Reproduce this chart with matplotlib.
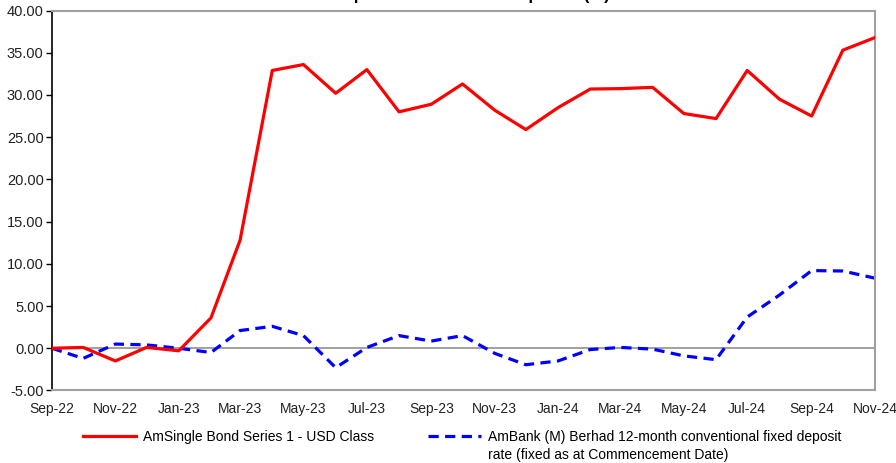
import matplotlib
matplotlib.use("Agg")
import matplotlib.pyplot as plt
import matplotlib.dates as mdates
import pandas as pd

plt.rcParams['font.family'] = ['Liberation Sans', 'DejaVu Sans']

months = pd.date_range("2022-09-01", "2024-11-01", freq="MS")

fund = [0.0, 0.1, -1.5, 0.1, -0.3, 3.6, 12.8, 32.9, 33.6, 30.2, 33.0, 28.0, 28.9,
        31.3, 28.2, 25.9, 28.5, 30.7, 30.75, 30.9, 27.8, 27.2, 32.9, 29.5, 27.5,
        35.3, 36.8]
bench = [0.0, -1.2, 0.5, 0.4, 0.0, -0.5, 2.1, 2.6, 1.5, -2.3, 0.1, 1.5, 0.85,
         1.5, -0.6, -1.95, -1.5, -0.15, 0.1, -0.1, -0.9, -1.35, 3.7, 6.3, 9.2,
         9.15, 8.3]

fund_label = "AmSingle Bond Series 1 - USD Class"
bench_label = "AmBank (M) Berhad 12-month conventional fixed deposit"
bench_label2 = "rate (fixed as at Commencement Date)"
title = "Cumulative performance over the period (%)"

fig = plt.figure(figsize=(8.96, 4.63), dpi=100)
ax = fig.add_axes([0.058, 0.1566, 0.9186, 0.8207])

ax.axhline(0, color="#999999", lw=1.3, zorder=1)
ax.plot(months, fund, color="#ff0000", lw=2.3, label=fund_label, zorder=3)
ax.plot(months, bench, color="#0000ff", lw=2.3, ls=(0, (3.2, 2.0)),
        label=bench_label, zorder=2)

ax.set_xlim(months[0], months[-1])
ax.set_ylim(-5, 40)
ax.set_yticks(range(-5, 41, 5))
ax.yaxis.set_major_formatter(matplotlib.ticker.FormatStrFormatter("%.2f"))
ax.set_xticks(months[::2])
ax.xaxis.set_major_formatter(mdates.DateFormatter("%b-%y"))

ax.tick_params(axis="y", length=4, width=1, color="black", labelsize=10.5,
               labelcolor="#222222", pad=2)
ax.tick_params(axis="x", length=0, labelsize=10, labelcolor="#222222", pad=8)

for side in ["top", "right", "bottom"]:
    ax.spines[side].set_color("#a0a0a0")
    ax.spines[side].set_linewidth(1.5)
ax.spines["left"].set_color("black")
ax.spines["left"].set_linewidth(1.2)

# title is cut off at the top of the picture
fig.text(0.4855, 1.0, title, ha="center", va="baseline",
         fontsize=12, fontweight="bold")

leg = fig.legend(loc="center left", bbox_to_anchor=(0.0925, 1 - 437 / 463),
                 ncol=2, frameon=False, fontsize=10, handlelength=3.8,
                 handletextpad=0.5, columnspacing=3.9, borderaxespad=0,
                 borderpad=0)

# second line of the benchmark label, under the first
fig.canvas.draw()
bb = leg.get_texts()[1].get_window_extent().transformed(fig.transFigure.inverted())
fig.text(bb.x0, bb.y0 - 18 / 463, bench_label2, fontsize=10, va="bottom", ha="left")

fig.savefig("out.png", dpi=100)
